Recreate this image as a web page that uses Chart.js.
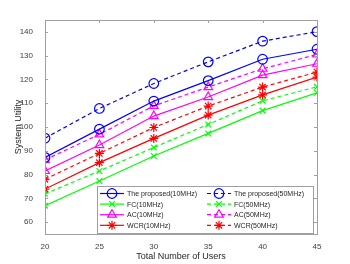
<!DOCTYPE html>
<html>
<head>
<meta charset="utf-8">
<script src="https://cdn.jsdelivr.net/npm/chart.js@4"></script>
<style>
  html, body { margin: 0; padding: 0; background: #fff; }
  #wrap { width: 350px; height: 264px; }
</style>
</head>
<body>
<div id="wrap"><canvas id="chart" width="350" height="264"></canvas></div>
<script>
// users on the x axis
const users = [20, 25, 30, 35, 40, 45];
const yTicks = [60, 70, 80, 90, 100, 110, 120, 130, 140];

// system utility
const proposed10 = [87.2, 99.1, 110.9, 119.5, 128.5, 132.7];
const proposed50 = [95.3, 107.8, 118.3, 127.4, 136.1, 140.1];
const fc10 = [66.9, 77.3, 87.8, 97.3, 106.9, 114.4];
const fc50 = [71.9, 81.5, 91.4, 101.1, 111.0, 116.9];
const ac10 = [81.5, 92.4, 104.6, 112.6, 121.8, 126.6];
const ac50 = [86.2, 96.9, 108.9, 116.8, 124.5, 130.5];
const wcr10 = [73.9, 85.0, 95.2, 105.0, 113.5, 121.0];
const wcr50 = [78.0, 88.9, 99.8, 108.8, 116.8, 123.1];

const textColor = '#404040';
const axisColor = '#a0a0a0';
const font = "Arial, 'Liberation Sans', Helvetica, sans-serif";

function series(label, values, color, style, radius, dashed) {
    return {
        label: label,
        data: users.map((u, i) => ({ x: u, y: values[i] })),
        borderColor: color,
        borderWidth: 1.2,
        borderDash: dashed ? [4, 3] : [],
        pointStyle: style,
        pointRadius: radius,
        pointBorderColor: color,
        pointBackgroundColor: 'rgba(0,0,0,0)',
        pointBorderWidth: 1.2,
        tension: 0,
        fill: false
    };
}

// box round the axes plus inward ticks, like the original figure
const boxPlugin = {
    id: 'box',
    afterDraw(chart) {
        const ctx = chart.ctx;
        const a = chart.chartArea;
        const xs = chart.scales.x, ys = chart.scales.y;
        ctx.save();
        ctx.strokeStyle = axisColor;
        ctx.lineWidth = 1;
        ctx.strokeRect(a.left + 0.5, a.top + 0.5, a.right - a.left, a.bottom - a.top);
        ctx.beginPath();
        users.forEach(u => {
            const px = Math.round(xs.getPixelForValue(u)) + 0.5;
            ctx.moveTo(px, a.bottom); ctx.lineTo(px, a.bottom - 3);
            ctx.moveTo(px, a.top); ctx.lineTo(px, a.top + 3);
        });
        yTicks.forEach(v => {
            const py = Math.round(ys.getPixelForValue(v)) + 0.5;
            ctx.moveTo(a.left, py); ctx.lineTo(a.left + 3, py);
            ctx.moveTo(a.right, py); ctx.lineTo(a.right - 3, py);
        });
        ctx.stroke();
        ctx.restore();
    }
};

// two-column legend in the lower right corner
const legendPlugin = {
    id: 'boxLegend',
    afterDraw(chart) {
        const ctx = chart.ctx;
        const sets = chart.data.datasets;
        const x0 = 97, y0 = 186, w = 216, h = 47;
        ctx.save();
        ctx.fillStyle = '#fff';
        ctx.fillRect(x0, y0, w, h);
        ctx.strokeStyle = axisColor;
        ctx.lineWidth = 1;
        ctx.strokeRect(x0 + 0.5, y0 + 0.5, w, h);
        const cols = [100, 207];
        sets.forEach((ds, i) => {
            const col = i < 4 ? 0 : 1;
            const row = i % 4;
            const lx = cols[col];
            const ly = y0 + 7.5 + row * 10.6;
            ctx.strokeStyle = ds.borderColor;
            ctx.lineWidth = 1.2;
            ctx.setLineDash(ds.borderDash);
            ctx.beginPath();
            ctx.moveTo(lx, ly); ctx.lineTo(lx + 24, ly);
            ctx.stroke();
            ctx.setLineDash([]);
            ctx.fillStyle = 'rgba(0,0,0,0)';
            Chart.helpers.drawPoint(ctx, {
                pointStyle: ds.pointStyle,
                radius: ds.pointRadius,
                rotation: 0,
                borderWidth: 1.2
            }, lx + 12, ly);
            ctx.fillStyle = '#262626';
            ctx.font = '7px ' + font;
            ctx.textBaseline = 'middle';
            ctx.textAlign = 'left';
            ctx.fillText(ds.label, lx + 27, ly + 0.5);
        });
        ctx.restore();
    }
};

const ctx = document.getElementById('chart').getContext('2d');
new Chart(ctx, {
    type: 'line',
    data: {
        datasets: [
            series('The proposed(10MHz)', proposed10, '#0000ff', 'circle', 4.8, false),
            series('FC(10MHz)', fc10, '#00ff00', 'crossRot', 4, false),
            series('AC(10MHz)', ac10, '#ff00ff', 'triangle', 5, false),
            series('WCR(10MHz)', wcr10, '#ff0000', 'star', 4.5, false),
            series('The proposed(50MHz)', proposed50, '#0000ff', 'circle', 4.8, true),
            series('FC(50MHz)', fc50, '#00ff00', 'crossRot', 4, true),
            series('AC(50MHz)', ac50, '#ff00ff', 'triangle', 5, true),
            series('WCR(50MHz)', wcr50, '#ff0000', 'star', 4.5, true)
        ]
    },
    options: {
        responsive: false,
        animation: false,
        layout: { padding: { top: 20, right: 33, left: 0, bottom: 0 } },
        plugins: {
            legend: { display: false },
            tooltip: { enabled: false }
        },
        scales: {
            x: {
                type: 'linear',
                min: 20,
                max: 45,
                afterFit(scale) { scale.height = 30; },
                afterBuildTicks(scale) { scale.ticks = users.map(v => ({ value: v })); },
                grid: { display: false },
                border: { display: false },
                ticks: { color: textColor, padding: 0, font: { family: font, size: 8 } },
                title: {
                    display: true,
                    text: 'Total Number of Users',
                    color: '#262626',
                    padding: { top: 0, bottom: 2 },
                    font: { family: font, size: 9 }
                }
            },
            y: {
                min: 55,
                max: 145,
                afterFit(scale) { scale.width = 45; },
                afterBuildTicks(scale) { scale.ticks = yTicks.map(v => ({ value: v })); },
                grid: { display: false },
                border: { display: false },
                ticks: { color: textColor, padding: 4, font: { family: font, size: 8 } },
                title: {
                    display: true,
                    text: 'System Utility',
                    color: '#262626',
                    padding: { top: 13, bottom: 0 },
                    font: { family: font, size: 9 }
                }
            }
        }
    },
    plugins: [boxPlugin, legendPlugin]
});
</script>
</body>
</html>
